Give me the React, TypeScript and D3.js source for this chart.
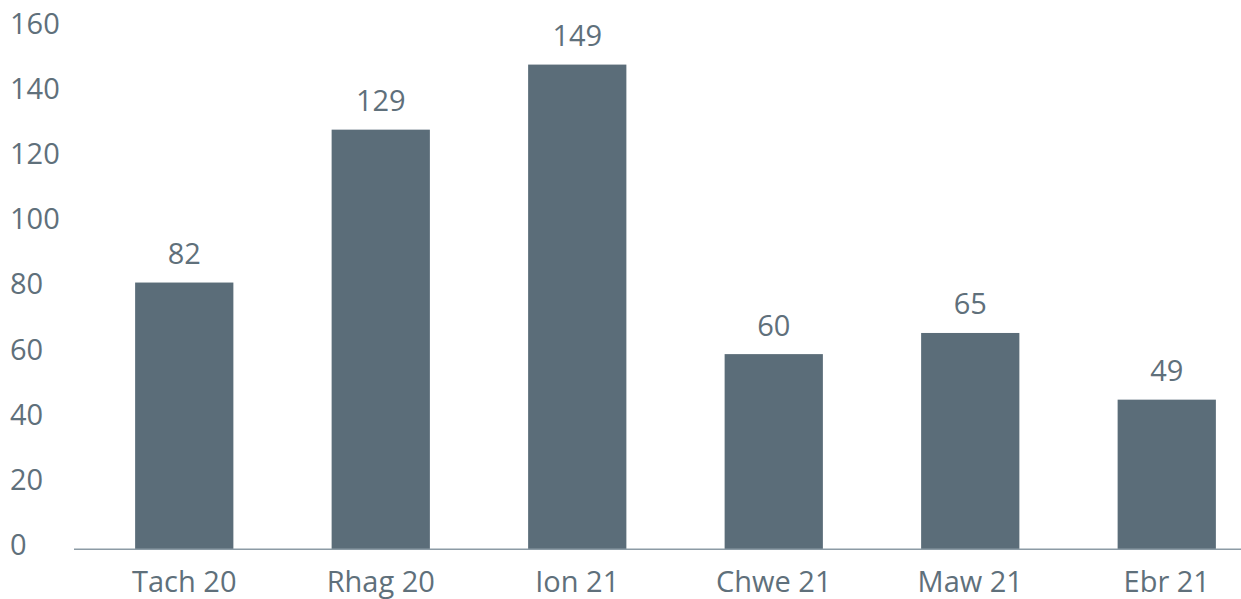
import React from "react";
import * as d3 from "d3";

const categories = ["Tach 20", "Rhag 20", "Ion 21", "Chwe 21", "Maw 21", "Ebr 21"];
// Bar heights as drawn in the picture
const barValues = [82, 129, 149, 60, 66.5, 46];
// Data labels as printed above the bars
const valueLabels = ["82", "129", "149", "60", "65", "49"];
const yTicks = [0, 20, 40, 60, 80, 100, 120, 140, 160];

const W = 1241;
const H = 599;
const BAR = "#5b6d79";
const TEXT = "#5f707b";
const FONT = "'Open Sans', 'Noto Sans', sans-serif";
const FS = 29;

export default function App() {
  const x = d3
    .scaleBand<string>()
    .domain(categories)
    .range([86, 1265])
    .paddingInner(0.5)
    .paddingOuter(0.25);
  const y = d3.scaleLinear().domain([0, 160]).range([549.3, 28.8]);

  return (
    <svg
      width={W}
      height={H}
      style={{ position: "absolute", left: 0, top: 0, background: "#fff" }}
      fontFamily={FONT}
    >
      {yTicks.map((t) => (
        <text key={t} x={10} y={y(t) + 5.4} fontSize={FS} fill={TEXT}>
          {t}
        </text>
      ))}
      {categories.map((c, i) => {
        const x0 = x(c)!;
        const top = y(barValues[i]);
        return (
          <g key={c}>
            <rect x={x0} y={top} width={x.bandwidth()} height={y(0) - top} fill={BAR} />
            <text
              x={x0 + x.bandwidth() / 2}
              y={top - 18.5}
              textAnchor="middle"
              fontSize={FS}
              fill={TEXT}
            >
              {valueLabels[i]}
            </text>
            <text
              x={x0 + x.bandwidth() / 2}
              y={591.5}
              textAnchor="middle"
              fontSize={FS}
              fill={TEXT}
            >
              {c}
            </text>
          </g>
        );
      })}
      <line x1={74} x2={W} y1={y(0)} y2={y(0)} stroke="#8c9ba5" strokeWidth={1.5} />
    </svg>
  );
}
